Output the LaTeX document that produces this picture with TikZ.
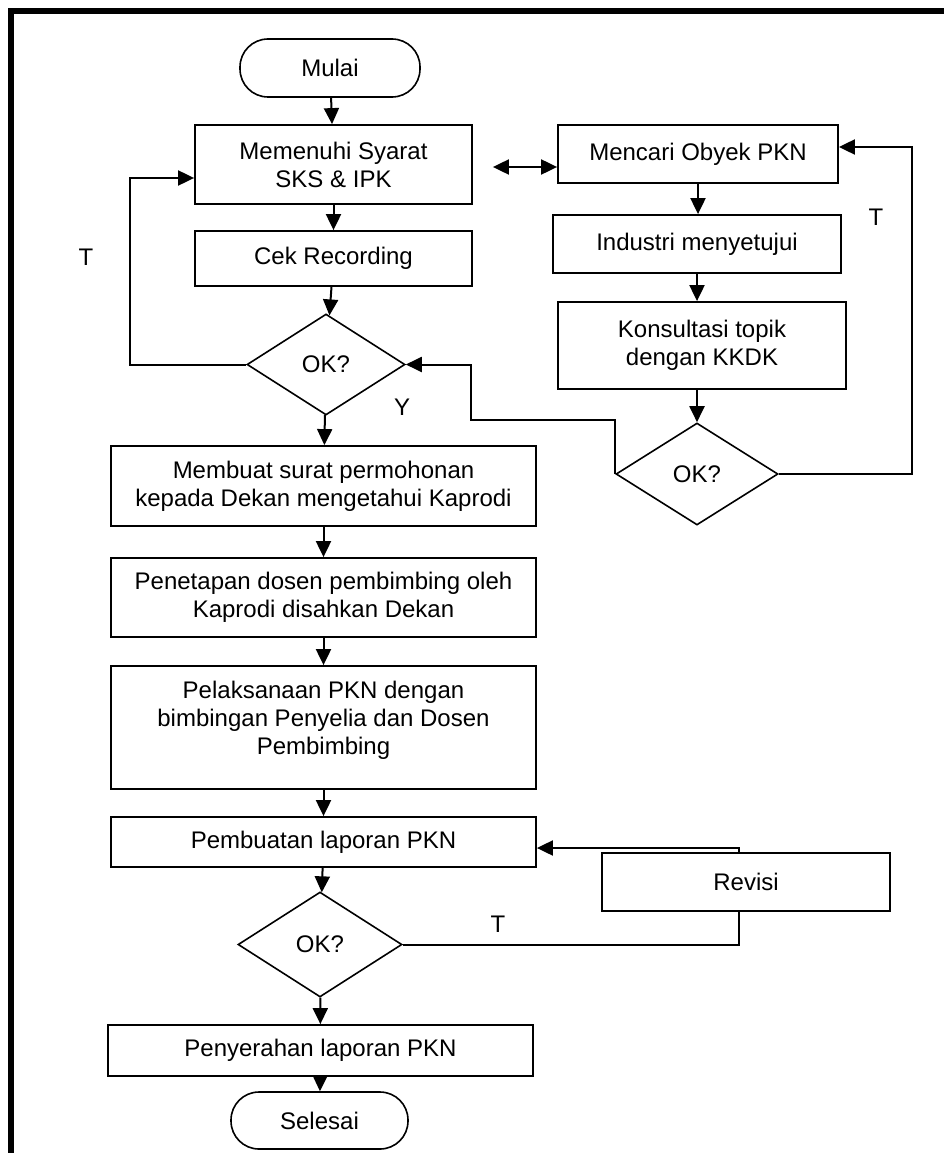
\documentclass[tikz,border=0pt]{standalone}
\usepackage{fontspec}
\setmainfont{Liberation Sans}
\usetikzlibrary{shapes.geometric,arrows.meta}

\begin{document}
\begin{tikzpicture}[x=1pt,y=-1pt,
    every node/.style={font=\fontsize{24}{28}\selectfont},
    proses/.style={draw,line width=1.8pt,align=center,inner sep=0pt},
    terminal/.style={draw,line width=1.6pt,rounded corners=28pt,inner sep=0pt},
    cek/.style={draw,diamond,line width=1.6pt,inner sep=0pt},
    panah/.style={line width=2pt,-{Triangle[length=16pt,width=15pt]}},
    garis/.style={line width=2pt}]
      \useasboundingbox (0,0) rectangle (944,1153);
      \draw[line width=6pt,line join=miter] (11,1153) -- (11,11) -- (944,11);

      \node[terminal,minimum width=180pt,minimum height=58pt] (mulai) at (330,68) {Mulai};
      \node[proses,minimum width=277pt,minimum height=79pt] (syarat) at (333.5,164.5) {Memenuhi Syarat\\SKS \& IPK};
      \node[proses,minimum width=277pt,minimum height=55pt] (recording) at (333.5,258.5) {Cek Recording};
      \node[cek,minimum width=158pt,minimum height=101pt] (ok1) at (326,364.5) {OK?};
      \node[proses,minimum width=425pt,minimum height=80pt] (surat) at (323.5,486) {Membuat surat permohonan\\kepada Dekan mengetahui Kaprodi};
      \node[proses,minimum width=425pt,minimum height=79pt] (penetapan) at (323.5,597.5) {Penetapan dosen pembimbing oleh\\Kaprodi disahkan Dekan};
      \node[proses,minimum width=425pt,minimum height=123pt] (pelaksanaan) at (323.5,727.5) {Pelaksanaan PKN dengan\\bimbingan Penyelia dan Dosen\\Pembimbing\\[-8pt]\mbox{}};
      \node[proses,minimum width=425pt,minimum height=50pt] (pembuatan) at (323.5,842) {Pembuatan laporan PKN};
      \node[cek,minimum width=164pt,minimum height=105pt] (ok3) at (320,944.5) {OK?};
      \node[proses,minimum width=425pt,minimum height=51pt] (penyerahan) at (320.5,1050.5) {Penyerahan laporan PKN};
      \node[terminal,minimum width=177pt,minimum height=57pt] (selesai) at (319.5,1120.5) {Selesai};

      \node[proses,minimum width=280pt,minimum height=58pt] (obyek) at (698,154) {Mencari Obyek PKN};
      \node[proses,minimum width=288pt,minimum height=58pt] (industri) at (697,244) {Industri menyetujui};
      \node[proses,minimum width=288pt,minimum height=87pt] (konsultasi) at (702,345.5) {Konsultasi topik\\dengan KKDK};
      \node[cek,minimum width=162pt,minimum height=102pt] (ok2) at (697,474) {OK?};
      \node[proses,minimum width=288pt,minimum height=58pt] (revisi) at (746,882) {Revisi};

      \node (t1) at (86,257) {T};
      \node (y1) at (402,407) {Y};
      \node (t2) at (876,217) {T};
      \node (t3) at (498,924) {T};

      \draw[panah] (mulai) -- (syarat);
      \draw[panah] (syarat) -- (recording);
      \draw[panah] (recording) -- (ok1);
      \draw[panah] (ok1) -- (surat);
      \draw[panah] (surat) -- (penetapan);
      \draw[panah] (penetapan) -- (pelaksanaan);
      \draw[panah] (pelaksanaan) -- (pembuatan);
      \draw[panah] (pembuatan) -- (ok3);
      \draw[panah] (ok3) -- (penyerahan);
      \draw[panah] (penyerahan) -- (selesai);
      \draw[panah] (obyek.south) -- (industri.north -| obyek.south);
      \draw[panah] (industri) -- (konsultasi.north -| industri.south);
      \draw[panah] (konsultasi.south -| ok2.north) -- (ok2);

      \coordinate (awal) at ([xshift=20pt,yshift=-2.5pt]syarat.east);
      \draw[line width=2pt,{Triangle[length=16pt,width=15pt]}-{Triangle[length=16pt,width=15pt]}] (awal) -- (obyek.west |- awal);
      \draw[panah] (ok1.west) -- ++(-116,0) |- ([yshift=-13.5pt]syarat.west);
      \coordinate (belok) at (471,420);
      \draw[panah] (ok2.west) |- (belok) |- (ok1.east);
      \draw[panah] (ok2.east) -- ++(133,0) |- ([yshift=7pt]obyek.east);
      \draw[garis] (ok3.east) -| ([xshift=-7pt]revisi.south);
      \draw[panah] ([xshift=-7pt]revisi.north) |- ([yshift=-6pt]pembuatan.east);
\end{tikzpicture}
\end{document}
